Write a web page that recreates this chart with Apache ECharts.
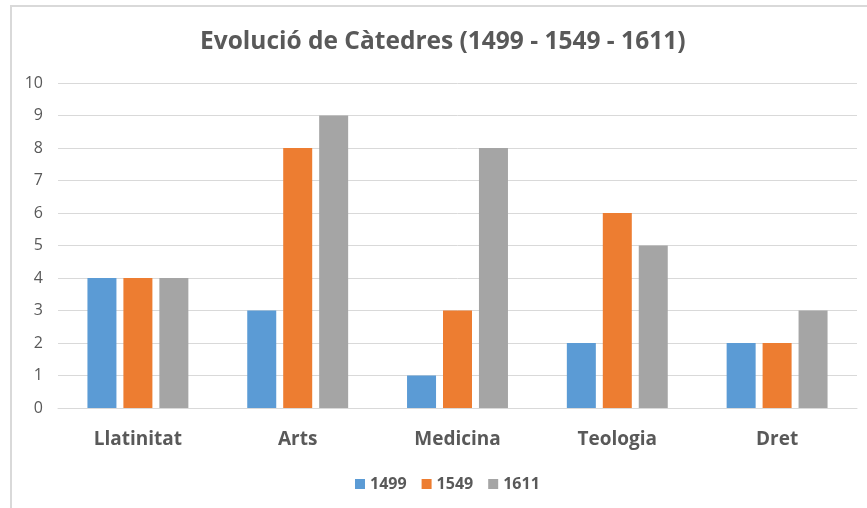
<!DOCTYPE html>
<html>
<head>
<meta charset="utf-8">
<script src="https://cdn.jsdelivr.net/npm/echarts@6/dist/echarts.min.js"></script>
<style>html,body{margin:0;padding:0;background:#fff;}#c{width:867px;height:508px;}</style>
</head>
<body>
<div id="c"></div>
<script>
const categories = ['Llatinitat', 'Arts', 'Medicina', 'Teologia', 'Dret'];
const seriesNames = ['1499', '1549', '1611'];
const values1499 = [4, 3, 1, 2, 2];
const values1549 = [4, 8, 3, 6, 2];
const values1611 = [4, 9, 8, 5, 3];
const colors = ['#5B9BD5', '#ED7D31', '#A5A5A5'];
const allValues = [values1499, values1549, values1611];

const chart = echarts.init(document.getElementById('c'));
const font = '"Open Sans", "Noto Sans", sans-serif';
chart.setOption({
  animation: false,
  backgroundColor: '#fff',
  graphic: [{
    type: 'rect', silent: true,
    shape: { x: 11, y: 6, width: 900, height: 600 },
    style: { fill: 'none', stroke: '#d9d9d9', lineWidth: 2 }
  }],
  title: {
    text: 'Evolució de Càtedres (1499 - 1549 - 1611)',
    left: 195, top: 25,
    textStyle: { fontFamily: font, fontSize: 24.5, fontWeight: 'bold', color: '#595959' }
  },
  legend: {
    data: seriesNames, bottom: 11, left: 350,
    itemWidth: 10, itemHeight: 10, itemGap: 15, icon: 'rect',
    textStyle: { fontFamily: font, fontSize: 16, fontWeight: 'bold', color: '#595959' }
  },
  grid: { left: 58, right: 10, top: 83, bottom: 100 },
  xAxis: {
    type: 'category', data: categories,
    axisLine: { lineStyle: { color: '#d9d9d9', width: 1 } },
    axisTick: { show: false },
    axisLabel: { fontFamily: font, fontSize: 19, fontWeight: 'bold', color: '#595959', margin: 22 }
  },
  yAxis: {
    type: 'value', min: 0, max: 10, interval: 1,
    axisLine: { show: false }, axisTick: { show: false },
    splitLine: { lineStyle: { color: '#d9d9d9', width: 1 } },
    axisLabel: { fontFamily: font, fontSize: 16, color: '#595959', margin: 15 }
  },
  series: seriesNames.map((n, i) => ({
    name: n, type: 'bar', data: allValues[i],
    barWidth: 29, barGap: '24%',
    itemStyle: { color: colors[i] }
  }))
});
</script>
</body>
</html>
